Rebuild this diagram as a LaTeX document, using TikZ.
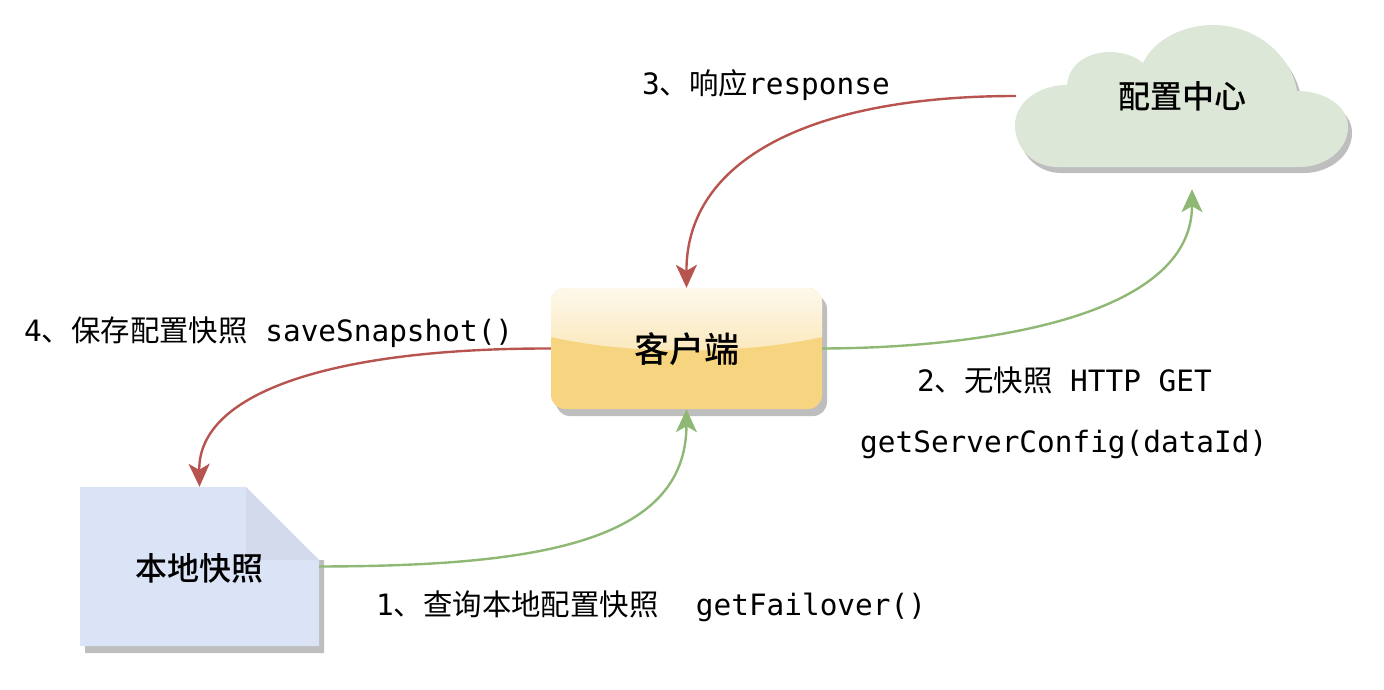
\documentclass[tikz,border=0pt]{standalone}
\usepackage{fontspec}
\setmonofont{DejaVu Sans Mono}
\newfontfamily\cjk{Noto Sans CJK SC}
\newfontfamily\cjkmed{Noto Sans CJK SC Medium}
\usetikzlibrary{arrows.meta,shadows}

\definecolor{redline}{HTML}{B85450}
\definecolor{greenline}{HTML}{8FB875}
\definecolor{cloudfill}{HTML}{DCE7D8}
\definecolor{notefill}{HTML}{DBE4F7}
\definecolor{foldfill}{HTML}{D3DAEC}
\definecolor{boxfill}{HTML}{F7D47F}
\definecolor{shadowgray}{HTML}{BEBEBE}

\tikzset{
  request/.style={-{Stealth[length=23pt,width=21pt,inset=6pt]},line width=2.4pt,greenline},
  reply/.style={-{Stealth[length=23pt,width=21pt,inset=6pt]},line width=2.4pt,redline},
  steplabel/.style={anchor=west,inner sep=0pt,font=\ttfamily\fontsize{29.4}{30}\selectfont},
  title/.style={font=\cjkmed\fontsize{32}{33}\selectfont,inner sep=0pt,text depth=2pt}
}

\newcommand{\cloudpath}{
  (1067,85) .. controls (1069,62) and (1090,52) .. (1110,52)
  .. controls (1122,52) and (1135,56) .. (1143,63)
  .. controls (1155,38) and (1185,25) .. (1213,25)
  .. controls (1256,25) and (1291,55) .. (1297,91)
  .. controls (1325,91) and (1348,106) .. (1348,127)
  .. controls (1348,150) and (1325,167) .. (1300,167)
  -- (1057,167)
  .. controls (1035,167) and (1015,150) .. (1015,125)
  .. controls (1015,103) and (1038,85) .. (1067,85) -- cycle}

\begin{document}
\begin{tikzpicture}[x=1pt,y=-1pt]

  \useasboundingbox (0,0) rectangle (1384,690);

  % cloud
  \fill[shadowgray,shift={(4pt,-6pt)}] \cloudpath;
  \fill[cloudfill] \cloudpath;

  % note
  \fill[shadowgray] (85,493) -- (246,493) -- (319,560) -- (324,560) -- (324,653) -- (85,653) -- cycle;
  \fill[notefill] (80,487) -- (246,487) -- (319,560) -- (319,646) -- (80,646) -- cycle;
  \fill[foldfill] (246,487) -- (319,560) -- (246,560) -- cycle;

  \node[title,minimum width=332pt,minimum height=142pt] (config) at (1182,96) {配置中心};
  \node[title,minimum width=239pt,minimum height=159pt,text depth=-16pt] (snapshot) at (199.5,566.5) {本地快照};
  \node[title,rounded corners=14pt,minimum width=271pt,minimum height=121pt,
        fill=boxfill,font=\cjkmed\fontsize{35}{36}\selectfont,
        drop shadow={shadow xshift=5pt,shadow yshift=-7pt,opacity=1,fill=shadowgray},
        path picture={
          \shade[sharp corners,top color=white!85!boxfill,bottom color=white!15!boxfill]
            (path picture bounding box.north west) -- (path picture bounding box.north east)
            -- ([yshift=-49pt]path picture bounding box.north east)
            .. controls ([xshift=-82pt,yshift=-67pt]path picture bounding box.north east)
            and ([xshift=80pt,yshift=-67pt]path picture bounding box.north west)
            .. ([yshift=-49pt]path picture bounding box.north west) -- cycle;
        }] (client) at (686.5,348.5) {客户端};

  % connectors
  \draw[request] (snapshot.east) .. controls (530,566) and (686,545) .. (client.south);
  \draw[request] (client.east) .. controls (980,348) and (1192,318) .. ([xshift=10pt,yshift=-22pt]config.south);
  \draw[reply] (config.west) .. controls (810,96) and (686,160) .. (client.north);
  \draw[reply] (client.west) .. controls (340,348) and (198,390) .. (snapshot.north);

  % labels
  \node[steplabel] (label3) at (642,85) {3{\cjk 、响应}response};
  \node[steplabel] (label4) at (24,332) {4{\cjk 、保存配置快照} saveSnapshot()};
  \node[steplabel] (label2a) at (917,380) {2{\cjk 、无快照} HTTP GET};
  \node[steplabel] (label2b) at (860,444) {getServerConfig(dataId)};
  \node[steplabel] (label1) at (376,606) {1{\cjk 、查询本地配置快照}\ \ \kern2pt getFailover()};

\end{tikzpicture}
\end{document}
